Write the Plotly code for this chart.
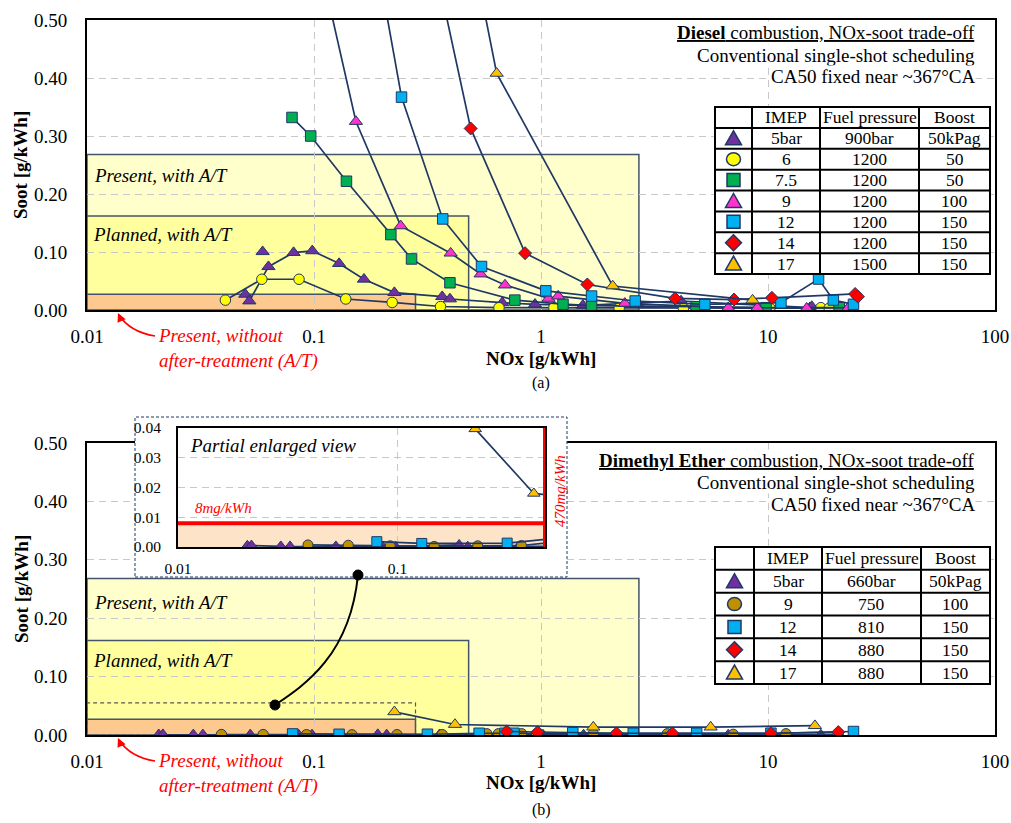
import math
import plotly.graph_objects as go

W, H = 1011, 823
FONT = "Liberation Serif"
NAVY = "#1f3864"
FS = 19  # main text size

# ---------------- tick labels ----------------
x_ticks = [0.01, 0.1, 1, 10, 100]
x_ticktext = ["0.01", "0.1", "1", "10", "100"]
y_ticks = [0, 0.1, 0.2, 0.3, 0.4, 0.5]
y_ticktext = ["0.00", "0.10", "0.20", "0.30", "0.40", "0.50"]
inset_x_ticks = [0.01, 0.1]
inset_x_ticktext = ["0.01", "0.1"]
inset_y_ticks = [0, 0.01, 0.02, 0.03, 0.04]
inset_y_ticktext = ["0.00", "0.01", "0.02", "0.03", "0.04"]

# ---------------- emission limit boxes (NOx, soot) ----------------
present_at = (2.7, 0.268)
planned_at = (0.48, 0.162)
present_no_at = (0.28, 0.027)
limit_nox_470 = 0.47
limit_soot_8 = 0.008
zoom_box = (0.28, 0.055)

# ---------------- Diesel (a) ----------------
d_imep = ["5bar", "6", "7.5", "9", "12", "14", "17"]
d_fuel = ["900bar", "1200", "1200", "1200", "1200", "1200", "1500"]
d_boost = ["50kPag", "50", "50", "100", "150", "150", "150"]

d5_nox = [0.0594, None, 0.0498, 0.0519, 0.063, 0.0813, 0.0983, 0.129, 0.166, 0.226,
          0.367, 0.397, 0.675, 0.941, 1.53, 2.65, 4.14, 15.3, 15.6]
d5_soot = [0.1005, None, 0.027, 0.0155, 0.0747, 0.099, 0.102, 0.080, 0.053, 0.030,
           0.023, 0.019, 0.0126, 0.0098, 0.008, 0.0115, 0.0155, 0.004, 0.006]

d6_nox = [0.0407, 0.0589, 0.0859, 0.138, 0.221, 0.361, 0.653, 1.14, 2.21, 4.24, 10.2, 17.1, 18.6]
d6_soot = [0.017, 0.053, 0.053, 0.019, 0.013, 0.006, 0.004, 0.004, 0.003, 0.003, 0.003, 0.004, 0.003]

d75_nox = [0.080, 0.0967, 0.139, 0.218, 0.269, 0.397, 0.767, 1.25, 1.67, 4.82, 9.8, 20.6]
d75_soot = [0.332, 0.300, 0.222, 0.130, 0.088, 0.047, 0.017, 0.010, 0.0075, 0.0057, 0.004, 0.004]

d9_nox = [0.106, 0.153, 0.241, 0.400, 0.542, 0.694, 1.08, 1.19, 2.34, 6.68, 8.97, 14.8, 22.6]
d9_soot = [0.60, 0.325, 0.145, 0.098, 0.062, 0.043, 0.020, 0.024, 0.0115, 0.004, 0.004, 0.003, 0.004]

d12_nox = [0.19, 0.243, 0.369, 0.547, 1.05, 1.67, 2.6, 5.27, 11.4, 16.7, 19.4, 23.8]
d12_soot = [0.60, 0.367, 0.157, 0.075, 0.033, 0.024, 0.0155, 0.0098, 0.0126, 0.0534, 0.0172, 0.0098]

d14_nox = [0.34, 0.490, 0.851, 1.60, 3.89, 7.08, 10.4, 24.2, 24.9]
d14_soot = [0.60, 0.313, 0.098, 0.044, 0.020, 0.018, 0.021, 0.0276, 0.023]

d17_nox = [0.51, 0.638, 2.07, 8.55]
d17_soot = [0.60, 0.408, 0.0414, 0.017]

# ---------------- Dimethyl ether (b) ----------------
e_imep = ["5bar", "9", "12", "14", "17"]
e_fuel = ["660bar", "750", "810", "880", "880"]
e_boost = ["50kPag", "100", "150", "150", "150"]

e5_nox = [0.0207, 0.0216, 0.0294, 0.0324, 0.0524, 0.0855, 0.098, 0.191, 0.209, 0.357, 1.02, 1.54, 6.68, 17.1]
e5_soot = [0.0004, 0.0005, 0.0002, 0.0002, 0.0002, 0.0001, 0.0001, 0.0007, 0.0001, 0.0002, 0.0, 0.0, 0.0, 0.0]

e9_nox = [0.0391, 0.0597, 0.0927, 0.147, 0.232, 0.367, 0.577, 0.649, 0.822, 0.957, 1.70, 3.6, 7.03, 12.0, 20.4]
e9_soot = [0.0007, 0.0006, 0.0004, 0.0002, 0.0004, 0.0005, 0.002, 0.002, 0.002, 0.002, 0.002, 0.002, 0.001, 0.002, 0.001]

e12_nox = [0.0805, 0.129, 0.316, 0.534, 0.694, 0.760, 1.38, 2.55, 4.85, 10.3, 23.8]
e12_soot = [0.0018, 0.0012, 0.0013, 0.003, 0.003, 0.003, 0.004, 0.003, 0.003, 0.003, 0.006]

e14_nox = [0.706, 0.967, 2.15, 3.79, 10.3, 20.4]
e14_soot = [0.006, 0.005, 0.003, 0.003, 0.003, 0.005]

e17_nox = [0.226, 0.418, 1.70, 5.59, 16.1]
e17_soot = [0.0397, 0.018, 0.0135, 0.0135, 0.016]

PURPLE, YELLOW, GREEN, MAGENTA = "#7030a0", "#ffff00", "#00b050", "#ff33cc"
CYAN, RED, ORANGE, OLIVE = "#00b0f0", "#ff0000", "#ffc000", "#bf9000"

diesel = [
    (d5_nox, d5_soot, "triangle-up", PURPLE),
    (d6_nox, d6_soot, "circle", YELLOW),
    (d75_nox, d75_soot, "square", GREEN),
    (d9_nox, d9_soot, "triangle-up", MAGENTA),
    (d12_nox, d12_soot, "square", CYAN),
    (d14_nox, d14_soot, "diamond", RED),
    (d17_nox, d17_soot, "triangle-up", ORANGE),
]
dme = [
    (e5_nox, e5_soot, "triangle-up", PURPLE),
    (e9_nox, e9_soot, "circle", OLIVE),
    (e12_nox, e12_soot, "square", CYAN),
    (e14_nox, e14_soot, "diamond", RED),
    (e17_nox, e17_soot, "triangle-up", ORANGE),
]
SIZES = {"triangle-up": 11.5, "circle": 10.5, "square": 10.5, "diamond": 10}


def X(p):
    return p / W


def Y(p):
    return 1 - p / H


fig = go.Figure()


def add_series(series, xa, ya, scale=1.0):
    for nox, soot, sym, col in series:
        fig.add_trace(go.Scatter(
            x=nox, y=soot, mode="lines+markers", xaxis=xa, yaxis=ya,
            line=dict(color=NAVY, width=1.7),
            marker=dict(symbol=sym, color=col, size=SIZES[sym] * scale,
                        line=dict(color=NAVY, width=1)),
            showlegend=False, hoverinfo="skip", cliponaxis=True))


add_series(diesel, "x", "y")
add_series(dme, "x2", "y2")
# cover subplot (white background behind inset)
fig.add_trace(go.Scatter(x=[None], y=[None], xaxis="x3", yaxis="y3",
                         showlegend=False, hoverinfo="skip"))
add_series(dme, "x4", "y4", 0.95)

shapes = []
annotations = []

# limit boxes on both panels
for xr, yr in (("x", "y"), ("x2", "y2")):
    for (bx, by), col in ((present_at, "#ffffcc"), (planned_at, "#ffff9e"),
                          (present_no_at, "#fdc98f")):
        shapes.append(dict(type="rect", xref=xr, yref=yr, x0=0.01, x1=bx, y0=0, y1=by,
                           fillcolor=col, line=dict(color="#44546a", width=1.5), layer="below"))

# dashed zoom region in panel b
shapes.append(dict(type="rect", xref="x2", yref="y2", x0=0.01, x1=zoom_box[0], y0=0,
                   y1=zoom_box[1], line=dict(color="#595959", width=1.2, dash="4px,3px"),
                   layer="between"))

# inset: orange fill and red limit lines
shapes.append(dict(type="rect", xref="x4", yref="y4", x0=0.01, x1=limit_nox_470, y0=0,
                   y1=limit_soot_8, fillcolor="#fde4c9", line=dict(width=0), layer="below"))
shapes.append(dict(type="line", xref="x4", yref="y4", x0=0.01, x1=limit_nox_470,
                   y0=limit_soot_8, y1=limit_soot_8, line=dict(color="red", width=4), layer="above"))
shapes.append(dict(type="line", xref="x4", yref="y4", x0=limit_nox_470, x1=limit_nox_470,
                   y0=-0.0006, y1=0.04, line=dict(color="red", width=4), layer="above"))

# inset dashed border
shapes.append(dict(type="rect", xref="paper", yref="paper", x0=X(135), x1=X(567),
                   y0=Y(577), y1=Y(417), line=dict(color=NAVY, width=1, dash="3px,2px"),
                   layer="above"))


def ppath(pts, close=True):
    s = "M " + " L ".join(f"{X(a):.5f},{Y(b):.5f}" for a, b in pts)
    return s + (" Z" if close else "")


# connector curve from zoom region to inset
p0, c1, c2, p3 = (275, 705), (305, 685), (350, 655), (358, 575)
shapes.append(dict(type="path", xref="paper", yref="paper",
                   path=(f"M {X(p0[0]):.5f},{Y(p0[1]):.5f} C {X(c1[0]):.5f},{Y(c1[1]):.5f} "
                         f"{X(c2[0]):.5f},{Y(c2[1]):.5f} {X(p3[0]):.5f},{Y(p3[1]):.5f}"),
                   line=dict(color="black", width=2), layer="above"))
for cx, cy in (p0, p3):
    shapes.append(dict(type="circle", xref="paper", yref="paper", x0=X(cx - 5), x1=X(cx + 5),
                       y0=Y(cy + 5), y1=Y(cy - 5), fillcolor="black", line=dict(color="black", width=1),
                       layer="above"))

# red curved arrows to the orange box
for dy in (0, 425):
    a0, ac, a2 = (155, 336 + dy), (130, 332 + dy), (119, 315 + dy)
    shapes.append(dict(type="path", xref="paper", yref="paper",
                       path=(f"M {X(a0[0]):.5f},{Y(a0[1]):.5f} Q {X(ac[0]):.5f},{Y(ac[1]):.5f} "
                             f"{X(a2[0]):.5f},{Y(a2[1]):.5f}"),
                       line=dict(color="red", width=1.6), layer="above"))
    annotations.append(dict(xref="paper", yref="paper", x=X(a2[0] - 1), y=Y(a2[1] - 2), ax=4, ay=9,
                            showarrow=True, arrowhead=2, arrowsize=1.1, arrowwidth=1.6,
                            arrowcolor="red", text="", standoff=0))
    annotations.append(dict(xref="paper", yref="paper", x=X(156), y=Y(348 + dy),
                            xanchor="left", yanchor="middle", showarrow=False, align="left",
                            text="<i>Present, without<br>after-treatment (A/T)</i>",
                            font=dict(size=FS, color="red")))
    annotations.append(dict(xref="paper", yref="paper", x=X(92), y=Y(175 + dy + (2 if dy else 0)),
                            xanchor="left", yanchor="middle", showarrow=False,
                            text="<i>Present, with A/T</i>", font=dict(size=FS)))
    annotations.append(dict(xref="paper", yref="paper", x=X(91), y=Y(236 + dy - 1),
                            xanchor="left", yanchor="middle", showarrow=False,
                            text="<i>Planned, with A/T</i>", font=dict(size=FS)))


def marker_shape(sym, col, cx, cy):
    ln = dict(color=NAVY, width=1.5)
    if sym == "triangle-up":
        return dict(type="path", xref="paper", yref="paper",
                    path=ppath([(cx - 8, cy + 6.5), (cx + 8, cy + 6.5), (cx, cy - 7.5)]),
                    fillcolor=col, line=ln, layer="above")
    if sym == "diamond":
        return dict(type="path", xref="paper", yref="paper",
                    path=ppath([(cx, cy - 8), (cx + 8, cy), (cx, cy + 8), (cx - 8, cy)]),
                    fillcolor=col, line=ln, layer="above")
    if sym == "circle":
        return dict(type="circle", xref="paper", yref="paper", x0=X(cx - 7), x1=X(cx + 7),
                    y0=Y(cy + 6.5), y1=Y(cy - 6.5), fillcolor=col, line=ln, layer="above")
    return dict(type="rect", xref="paper", yref="paper", x0=X(cx - 6.5), x1=X(cx + 6.5),
                y0=Y(cy + 6.5), y1=Y(cy - 6.5), fillcolor=col, line=ln, layer="above")


TFS = 17.5


def table(xe, ye, series, imep, fuel, boost):
    shapes.append(dict(type="rect", xref="paper", yref="paper", x0=X(xe[0]), x1=X(xe[-1]),
                       y0=Y(ye[-1]), y1=Y(ye[0]), fillcolor="white",
                       line=dict(color="black", width=2), layer="above"))
    for xv in xe[1:-1]:
        shapes.append(dict(type="line", xref="paper", yref="paper", x0=X(xv), x1=X(xv),
                           y0=Y(ye[-1]), y1=Y(ye[0]), line=dict(color="black", width=2), layer="above"))
    for yv in ye[1:-1]:
        shapes.append(dict(type="line", xref="paper", yref="paper", x0=X(xe[0]), x1=X(xe[-1]),
                           y0=Y(yv), y1=Y(yv), line=dict(color="black", width=2), layer="above"))
    for j, h in enumerate(["IMEP", "Fuel pressure", "Boost"]):
        annotations.append(dict(xref="paper", yref="paper", x=X((xe[j + 1] + xe[j + 2]) / 2),
                                y=Y((ye[0] + ye[1]) / 2), text=h, showarrow=False,
                                xanchor="center", yanchor="middle", font=dict(size=TFS)))
    for i, (s, a, b, c) in enumerate(zip(series, imep, fuel, boost)):
        cy = (ye[i + 1] + ye[i + 2]) / 2
        shapes.append(marker_shape(s[2], s[3], (xe[0] + xe[1]) / 2, cy))
        for j, t in enumerate((a, b, c)):
            annotations.append(dict(xref="paper", yref="paper", x=X((xe[j + 1] + xe[j + 2]) / 2),
                                    y=Y(cy), text=t, showarrow=False, xanchor="center",
                                    yanchor="middle", font=dict(size=TFS)))


ye_a = [107 + k * (274 - 107) / 8 for k in range(9)]
table([715, 752, 820, 919, 990], ye_a, diesel, d_imep, d_fuel, d_boost)
ye_b = [547 + k * (684 - 547) / 6 for k in range(7)]
table([715, 754, 822, 921, 990], ye_b, dme, e_imep, e_fuel, e_boost)

# titles (right aligned)
for lines, y0 in (([
        "<u><b>Diesel</b> combustion, NOx-soot trade-off</u>",
        "Conventional single-shot scheduling",
        "CA50 fixed near ~367°CA"], 33),
        (["<u><b>Dimethyl Ether</b> combustion, NOx-soot trade-off</u>",
          "Conventional single-shot scheduling",
          "CA50 fixed near ~367°CA"], 460)):
    for k, t in enumerate(lines):
        annotations.append(dict(xref="paper", yref="paper", x=X(976), y=Y(y0 + k * 22),
                                xanchor="right", yanchor="middle", showarrow=False, text=t,
                                font=dict(size=FS), bgcolor="white", borderpad=0))

# axis titles and panel labels
for ylab, xlab, tag, ytag in ((165, 358, "(a)", 383), (589, 782, "(b)", 810)):
    annotations.append(dict(xref="paper", yref="paper", x=X(21), y=Y(ylab), textangle=-90,
                            text="<b>Soot [g/kWh]</b>", showarrow=False, font=dict(size=FS),
                            xanchor="center", yanchor="middle"))
    annotations.append(dict(xref="paper", yref="paper", x=X(541), y=Y(xlab),
                            text="<b>NOx [g/kWh]</b>", showarrow=False, font=dict(size=FS),
                            xanchor="center", yanchor="middle"))
    annotations.append(dict(xref="paper", yref="paper", x=X(541), y=Y(ytag), text=tag,
                            showarrow=False, font=dict(size=16), xanchor="center", yanchor="middle"))

# inset labels
annotations.append(dict(xref="paper", yref="paper", x=X(188), y=Y(445), xanchor="left",
                        yanchor="middle", showarrow=False, text="<i>Partial enlarged view</i>",
                        font=dict(size=FS)))
annotations.append(dict(xref="paper", yref="paper", x=X(193), y=Y(508), xanchor="left",
                        yanchor="middle", showarrow=False, text="<i>8mg/kWh</i>",
                        font=dict(size=15, color="red")))
annotations.append(dict(xref="paper", yref="paper", x=X(560), y=Y(491), xanchor="center",
                        yanchor="middle", showarrow=False, text="<i>470mg/kWh</i>", textangle=-90,
                        font=dict(size=15, color="red")))

GRID = dict(showgrid=True, gridcolor="#c8c8c8", gridwidth=1.3, griddash="7px,5px", zeroline=False,
            ticks="", showline=True, mirror=True, linecolor="black", linewidth=2, automargin=False)


def xax(dom, anchor):
    return dict(domain=dom, anchor=anchor, type="log", range=[-2, 2], tickvals=x_ticks,
                ticktext=x_ticktext, tickfont=dict(size=FS), ticklabelstandoff=8, **GRID)


def yax(dom, anchor):
    return dict(domain=dom, anchor=anchor, range=[0, 0.5], tickvals=y_ticks, ticktext=y_ticktext,
                tickfont=dict(size=FS), ticklabelstandoff=14, **GRID)


fig.update_layout(
    width=W, height=H, autosize=False, margin=dict(l=0, r=0, t=0, b=0, pad=0, autoexpand=False),
    paper_bgcolor="white", plot_bgcolor="white", showlegend=False,
    font=dict(family=FONT, size=FS, color="black"),
    xaxis=xax([X(87), X(995)], "y"),
    yaxis=yax([Y(310), Y(20)], "x"),
    xaxis2=xax([X(87), X(995)], "y2"),
    yaxis2=yax([Y(735), Y(443)], "x2"),
    xaxis3=dict(domain=[X(135), X(567)], anchor="y3", visible=False, range=[0, 1]),
    yaxis3=dict(domain=[Y(577), Y(417)], anchor="x3", visible=False, range=[0, 1]),
    xaxis4=dict(domain=[X(178), X(545)], anchor="y4", type="log",
                range=[-2, math.log10(limit_nox_470)], tickvals=inset_x_ticks,
                ticktext=inset_x_ticktext, tickfont=dict(size=15.5), ticklabelstandoff=6, **GRID),
    yaxis4=dict(domain=[Y(547), Y(428)], anchor="x4", range=[0, 0.04], tickvals=inset_y_ticks,
                ticktext=inset_y_ticktext, tickfont=dict(size=15.5), ticklabelstandoff=12, **GRID),
    shapes=shapes, annotations=annotations,
)

fig.write_html("out.html", config={"displayModeBar": False},
               post_script="document.body.style.margin='0';document.body.style.overflow='hidden';")
